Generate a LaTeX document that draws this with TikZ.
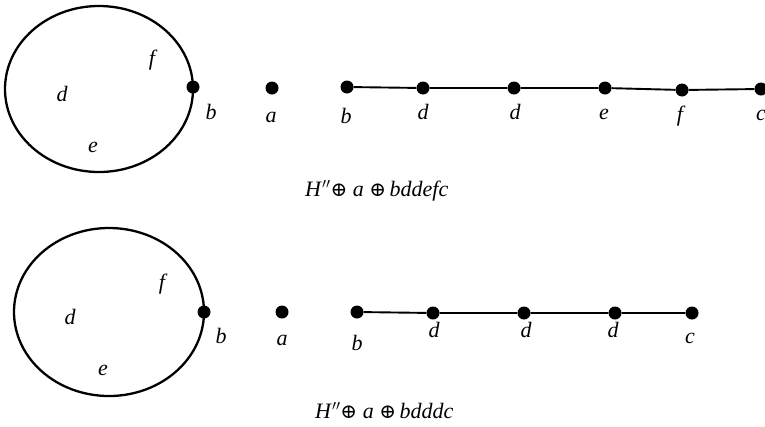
\documentclass[tikz,border=0pt]{standalone}
\usepackage{fontspec}
\setmainfont{Liberation Serif}
\newfontfamily\opfont{DejaVu Serif}
\newcommand{\myop}{{\opfont\fontsize{20}{24}\selectfont ⊕}}
\begin{document}
\begin{tikzpicture}[x=1pt,y=-1pt,
  dot/.style={circle,fill=black,inner sep=0pt,minimum size=13pt},
  lab/.style={font=\fontsize{22}{26}\selectfont\itshape,inner sep=0pt,anchor=base},
  captext/.style={font=\fontsize{22}{26}\selectfont,inner sep=0pt,anchor=base west},
  curve/.style={line width=2.3pt},
  edge/.style={line width=1.9pt}]
\useasboundingbox (0,0) rectangle (765,426);
% ---------- top ----------
\draw[curve] (99,89) ellipse [x radius=94, y radius=83];
\node[lab] (tf) at (152,65) {f};
\node[lab] (td) at (62,101) {d};
\node[lab] (te) at (93,152) {e};
\node[dot] (thb) at (193,87) {};
\node[lab] (thbl) at (211,119) {b};
\node[dot] (ta) at (272,88) {};
\node[lab] (tal) at (271,122) {a};
\node[dot] (t1) at (347,87) {};
\node[dot] (t2) at (423,88) {};
\node[dot] (t3) at (514,88) {};
\node[dot] (t4) at (605,88) {};
\node[dot] (t5) at (682,90) {};
\node[dot] (t6) at (761,89) {};
\node[lab] (t1l) at (346,123) {b};
\node[lab] (t2l) at (423,119) {d};
\node[lab] (t3l) at (515,119) {d};
\node[lab] (t4l) at (604,119) {e};
\node[lab] (t5l) at (680,121) {f};
\node[lab] (t6l) at (761,120) {c};
\draw[edge] (t1) -- (t2) -- (t3) -- (t4) -- (t5) -- (t6);
\node[captext] (tcap) at (305,196) {\textit{H}$''$\myop\ \textit{a} \myop\,\textit{bddefc}};
% ---------- bottom ----------
\draw[curve] (109,312) ellipse [x radius=95, y radius=84];
\node[lab] (bf) at (162,289) {f};
\node[lab] (bd) at (70,324) {d};
\node[lab] (be) at (103,375) {e};
\node[dot] (bhb) at (204,312) {};
\node[lab] (bhbl) at (221,343) {b};
\node[dot] (ba) at (282,312) {};
\node[lab] (bal) at (282,345) {a};
\node[dot] (b1) at (357,312) {};
\node[dot] (b2) at (433,313) {};
\node[dot] (b3) at (524,313) {};
\node[dot] (b4) at (615,313) {};
\node[dot] (b5) at (692,313) {};
\node[lab] (b1l) at (357,350) {b};
\node[lab] (b2l) at (434,337) {d};
\node[lab] (b3l) at (526,337) {d};
\node[lab] (b4l) at (613,337) {d};
\node[lab] (b5l) at (690,343) {c};
\draw[edge] (b1) -- (b2) -- (b3) -- (b4) -- (b5);
\node[captext] (bcap) at (315,418) {\textit{H}$''$\myop\ \textit{a} \myop\,\textit{bdddc}};
\end{tikzpicture}
\end{document}
